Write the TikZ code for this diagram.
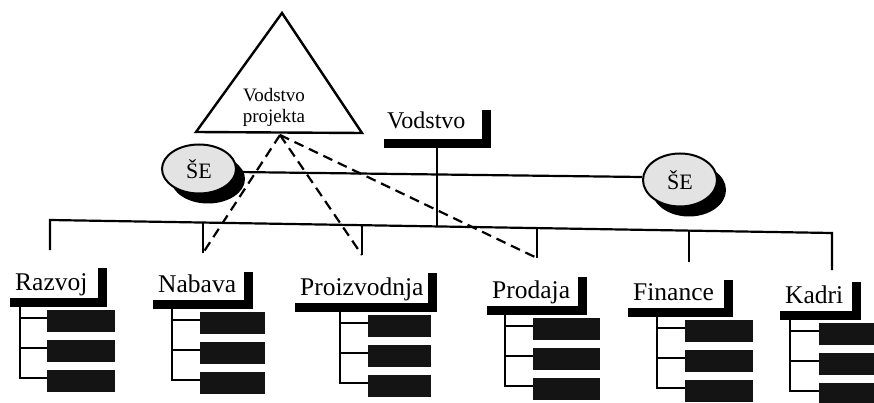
\documentclass[tikz,border=0pt]{standalone}
\usepackage{fontspec}
\setmainfont{Liberation Serif}
\usetikzlibrary{shapes.geometric,shadows,calc}

% department: name, label, bar left, bar top, bar right, upright top, tree x, box left, box right
\newcommand\dept[9]{%
  \node[deptlabel] (#1) at (#3+5,#4-8) {#2};
  \fill (#3,#4) rectangle (#5,#4+9);
  \fill (#5-9,#6) rectangle (#5,#4+9);
  \coordinate (#1-root) at (#7,#4+9);
  \foreach \k [count=\i] in {0,30,60} {
    \node[subbox, minimum width=#9-#8] (#1-s\i) at (#8,#4+12+\k) {};
    \draw[conn] (#1-root) |- ($(#1-s\i.north west)+(0,8)$);
  }
}

\begin{document}
\begin{tikzpicture}[x=1pt,y=-1pt,
  conn/.style={line width=2.2pt},
  projlink/.style={line width=2.2pt, dash pattern=on 10pt off 6pt},
  deptlabel/.style={anchor=base west, inner sep=0pt, font=\fontsize{25.5}{28}\selectfont},
  subbox/.style={fill=black!92, draw=none, anchor=north west, minimum height=22pt, inner sep=0pt},
  se/.style={ellipse, draw, line width=2pt, fill=gray!22, minimum width=74pt,
    minimum height=49pt, inner sep=0pt, font=\fontsize{22}{24}\selectfont,
    drop shadow={shadow xshift=9pt, shadow yshift=-10pt, fill=black, opacity=1}}]
\useasboundingbox (0,0) rectangle (874,403);

% project management triangle
\coordinate (triApex) at (282,13);
\coordinate (triL) at (196,132);
\coordinate (triR) at (362,133);
\coordinate (triFoot) at (280,135);
\draw[line width=2.4pt, line join=miter] (triApex) -- (triL) -- (triR) -- cycle;
\node[align=center, anchor=base, inner sep=0pt, font=\fontsize{19}{21}\selectfont]
  (proj) at (274,123) {Vodstvo\\projekta};

% top management
\node[anchor=base west, inner sep=0pt, font=\fontsize{24}{26}\selectfont] (vodstvo) at (387,129) {Vodstvo};
\fill (384,139) rectangle (491,148);
\fill (482,110) rectangle (491,148);
\coordinate (vodFoot) at (437,148);

% departments
\dept{razvoj}{Razvoj}{10}{298}{107}{268}{20}{47}{115}
\dept{nabava}{Nabava}{153}{300}{253}{272}{172}{200}{265}
\dept{proizvodnja}{Proizvodnja}{295}{303}{437}{273}{340}{368}{431}
\dept{prodaja}{Prodaja}{487}{306}{587}{277}{505}{533}{600}
\dept{finance}{Finance}{628}{308}{733}{280}{657}{685}{753}
\dept{kadri}{Kadri}{780}{311}{861}{282}{790}{819}{874}

% bus with drops
\coordinate (busL) at (50,220);
\coordinate (busR) at (832,233);
\coordinate (razvojDrop) at (50,250);
\coordinate (kadriDrop) at (832,270);
\coordinate (nabavaBus) at (203,222.5);
\coordinate (nabavaDrop) at (203,253);
\coordinate (proizBus) at (362,225.2);
\coordinate (proizDrop) at (362,255);
\coordinate (vodBus) at (437,226.4);
\coordinate (prodajaBus) at (537,228.1);
\coordinate (prodajaDrop) at (537,258);
\coordinate (financeBus) at (689,230.6);
\coordinate (financeDrop) at (689,262);
\draw[conn] (razvojDrop) -- (busL) -- (busR) -- (kadriDrop);
\draw[conn] (nabavaBus) -- (nabavaDrop);
\draw[conn] (proizBus) -- (proizDrop);
\draw[conn] (prodajaBus) -- (prodajaDrop);
\draw[conn] (financeBus) -- (financeDrop);
\draw[conn] (vodFoot) -- (vodBus);

% staff units
\node[se] (seL) at (199,169) {ŠE};
\node[se, minimum height=53pt] (seR) at (680,180) {ŠE};
\draw[conn] ($(seL.east)+(0,3)$) -- ($(seR.west)+(0,-3)$);

% project links
\draw[projlink] (triFoot) -- (nabavaDrop);
\draw[projlink] (triFoot) -- (proizDrop);
\draw[projlink] (triFoot) -- (prodajaDrop);
\end{tikzpicture}
\end{document}
